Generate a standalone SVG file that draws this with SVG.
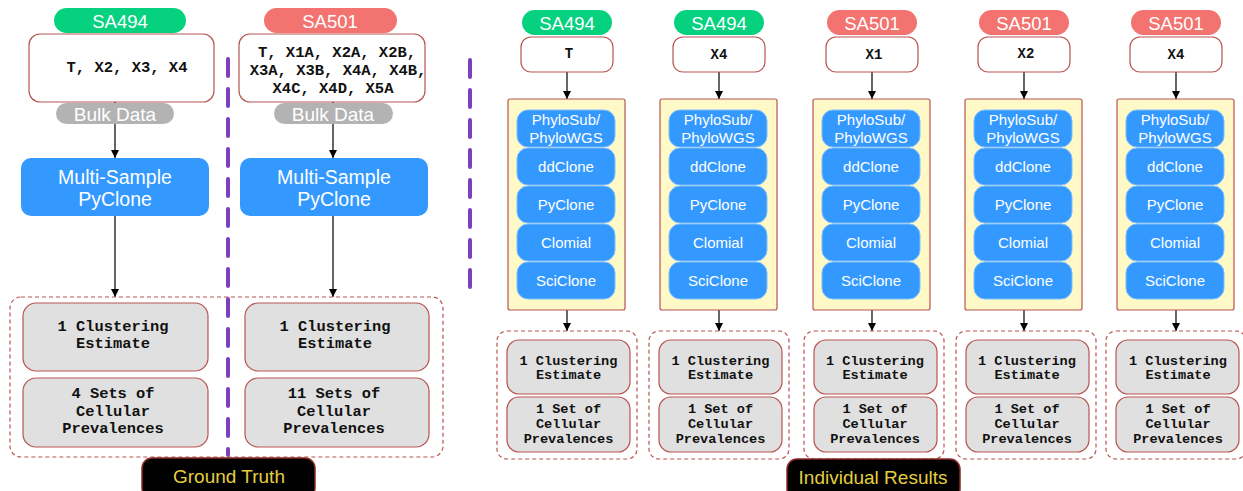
<svg xmlns="http://www.w3.org/2000/svg" width="1243" height="491" viewBox="0 0 1243 491">
  <defs>
    <marker id="arrow" viewBox="0 0 10 10" refX="10" refY="5" markerWidth="8" markerHeight="8" markerUnits="userSpaceOnUse" orient="auto">
      <path d="M0,0 L10,5 L0,10 Z" fill="#000"/>
    </marker>
  </defs>
  <style>
    .sans { font-family: "Liberation Sans", Arial, sans-serif; }
    .mono { font-family: "Liberation Mono", "Courier New", monospace; font-weight: bold; fill: #111; }
    .pill-g { fill: #05d17f; }
    .pill-r { fill: #f37370; }
    .pill-t { fill: #fff; font-size: 18.5px; text-anchor: middle; }
    .sample { fill: #fff; stroke: #b85450; stroke-width: 1.2; }
    .bulk { fill: #b3b3b3; }
    .bulk-t { fill: #fff; font-size: 19px; text-anchor: middle; }
    .msp { fill: #3399ff; }
    .msp-t { fill: #fff; font-size: 19.5px; text-anchor: middle; }
    .tray { fill: #fff9c8; stroke: #b85450; stroke-width: 1.2; }
    .tool { fill: #3399ff; stroke: #7fbfff; stroke-width: 1; }
    .tool-t { fill: #fff; font-size: 15px; text-anchor: middle; }
    .result { fill: none; stroke: #b85450; stroke-width: 1.2; stroke-dasharray: 4 3; }
    .out { fill: #e0e0e0; stroke: #b85450; stroke-width: 1.2; }
    .out-t { font-size: 15.4px; text-anchor: middle; }
    .out-s { font-size: 13.6px; text-anchor: middle; }
    .edge { stroke: #000; stroke-width: 1.2; fill: none; marker-end: url(#arrow); }
    .divider { stroke: #7e3fbf; stroke-width: 4; stroke-dasharray: 17 13; stroke-linecap: round; fill: none; }
    .banner { fill: #000; stroke: #8a2a24; stroke-width: 1.5; }
    .banner-t { fill: #e3cf3f; font-size: 19px; text-anchor: middle; }
  </style>

  <!-- dashed section dividers -->
  <g id="dividers">
    <line class="divider" x1="228" y1="59" x2="228" y2="455"/>
    <line class="divider" x1="470" y1="60" x2="470" y2="296"/>
  </g>

  <!-- connectors -->
  <g id="connectors">
    <line class="edge" x1="115" y1="102" x2="115" y2="158"/>
    <line class="edge" x1="115" y1="216" x2="115" y2="297"/>
    <line class="edge" x1="333" y1="102" x2="333" y2="158"/>
    <line class="edge" x1="333" y1="216" x2="333" y2="297"/>
    <line class="edge" x1="567" y1="72" x2="567" y2="99"/>
    <line class="edge" x1="567" y1="310" x2="567" y2="331"/>
    <line class="edge" x1="719" y1="72" x2="719" y2="99"/>
    <line class="edge" x1="719" y1="310" x2="719" y2="331"/>
    <line class="edge" x1="872" y1="72" x2="872" y2="99"/>
    <line class="edge" x1="872" y1="310" x2="872" y2="331"/>
    <line class="edge" x1="1024" y1="72" x2="1024" y2="99"/>
    <line class="edge" x1="1024" y1="310" x2="1024" y2="331"/>
    <line class="edge" x1="1176" y1="72" x2="1176" y2="99"/>
    <line class="edge" x1="1176" y1="310" x2="1176" y2="331"/>
  </g>

  <!-- ground truth: SA494 -->
  <g id="gt-sa494-label">
    <rect class="pill-g" x="54" y="8" width="132" height="25" rx="12.5"/>
    <text class="sans pill-t" x="120" y="28">SA494</text>
  </g>
  <g id="gt-sa494-samples">
    <rect class="sample" x="29" y="34" width="185" height="68" rx="11"/>
    <text class="mono" x="127" y="72" font-size="15.5" text-anchor="middle">T, X2, X3, X4</text>
  </g>
  <g id="gt-sa494-bulk">
    <rect class="bulk" x="56" y="103" width="118" height="21" rx="10.5"/>
    <text class="sans bulk-t" x="115" y="121">Bulk Data</text>
  </g>
  <g id="gt-sa494-pyclone">
    <rect class="msp" x="21" y="158" width="188" height="58" rx="10"/>
    <text class="sans msp-t" x="115" y="184">Multi-Sample</text>
    <text class="sans msp-t" x="115" y="206">PyClone</text>
  </g>

  <!-- ground truth: SA501 -->
  <g id="gt-sa501-label">
    <rect class="pill-r" x="264" y="8" width="133" height="25" rx="12.5"/>
    <text class="sans pill-t" x="330" y="28">SA501</text>
  </g>
  <g id="gt-sa501-samples">
    <rect class="sample" x="239" y="34" width="186" height="68" rx="11"/>
    <text class="mono" x="337" y="57" font-size="15.5" text-anchor="middle">T, X1A, X2A, X2B,</text>
    <text class="mono" x="338" y="75" font-size="15.5" text-anchor="middle">X3A, X3B, X4A, X4B,</text>
    <text class="mono" x="333" y="93" font-size="15.5" text-anchor="middle">X4C, X4D, X5A</text>
  </g>
  <g id="gt-sa501-bulk">
    <rect class="bulk" x="274" y="103" width="119" height="21" rx="10.5"/>
    <text class="sans bulk-t" x="333" y="121">Bulk Data</text>
  </g>
  <g id="gt-sa501-pyclone">
    <rect class="msp" x="240" y="158" width="188" height="58" rx="10"/>
    <text class="sans msp-t" x="334" y="184">Multi-Sample</text>
    <text class="sans msp-t" x="334" y="206">PyClone</text>
  </g>

  <!-- ground truth outputs -->
  <g id="gt-results">
    <rect class="result" x="10" y="297" width="433" height="160" rx="11"/>
  </g>
  <g id="gt-sa494-clustering">
    <rect class="out" x="23" y="303" width="185" height="68" rx="13"/>
    <text class="mono out-t" x="113" y="331">1 Clustering</text>
    <text class="mono out-t" x="113" y="348">Estimate</text>
  </g>
  <g id="gt-sa494-prevalences">
    <rect class="out" x="23" y="378" width="185" height="69" rx="13"/>
    <text class="mono out-t" x="113" y="398">4 Sets of</text>
    <text class="mono out-t" x="113" y="416">Cellular</text>
    <text class="mono out-t" x="113" y="433">Prevalences</text>
  </g>
  <g id="gt-sa501-clustering">
    <rect class="out" x="245" y="303" width="184" height="68" rx="13"/>
    <text class="mono out-t" x="335" y="331">1 Clustering</text>
    <text class="mono out-t" x="335" y="348">Estimate</text>
  </g>
  <g id="gt-sa501-prevalences">
    <rect class="out" x="245" y="378" width="184" height="69" rx="13"/>
    <text class="mono out-t" x="334" y="398">11 Sets of</text>
    <text class="mono out-t" x="334" y="416">Cellular</text>
    <text class="mono out-t" x="334" y="433">Prevalences</text>
  </g>
  <g id="gt-banner">
    <rect class="banner" x="142" y="458" width="173" height="40" rx="10"/>
    <text class="sans banner-t" x="229" y="483">Ground Truth</text>
  </g>

  <!-- individual results: one column per sample -->
  <g id="ir-sa494-t" transform="translate(567,0)">
    <rect class="pill-g" x="-45" y="10" width="90" height="25" rx="12.5"/>
    <text class="sans pill-t" x="0" y="30">SA494</text>
    <rect class="sample" x="-46" y="37" width="92" height="35" rx="10"/>
    <text class="mono" x="2" y="58" font-size="14" text-anchor="middle">T</text>
    <rect class="tray" x="-59" y="99" width="117" height="211" rx="2"/>
    <rect class="tool" x="-50" y="110" width="98" height="37" rx="11"/>
    <text class="sans tool-t" x="-1" y="125">PhyloSub/</text>
    <text class="sans tool-t" x="-1" y="143">PhyloWGS</text>
    <rect class="tool" x="-50" y="148" width="98" height="37" rx="11"/>
    <text class="sans tool-t" x="-1" y="172">ddClone</text>
    <rect class="tool" x="-50" y="186" width="98" height="37" rx="11"/>
    <text class="sans tool-t" x="-1" y="210">PyClone</text>
    <rect class="tool" x="-50" y="224" width="98" height="37" rx="11"/>
    <text class="sans tool-t" x="-1" y="248">Clomial</text>
    <rect class="tool" x="-50" y="262" width="98" height="37" rx="11"/>
    <text class="sans tool-t" x="-1" y="286">SciClone</text>
    <rect class="result" x="-70" y="331" width="140" height="128" rx="10"/>
    <rect class="out" x="-60" y="340" width="123" height="54" rx="12"/>
    <text class="mono out-s" x="1.5" y="365">1 Clustering</text>
    <text class="mono out-s" x="1.5" y="379">Estimate</text>
    <rect class="out" x="-60" y="397" width="123" height="55" rx="12"/>
    <text class="mono out-s" x="1.5" y="413">1 Set of</text>
    <text class="mono out-s" x="1.5" y="428">Cellular</text>
    <text class="mono out-s" x="1.5" y="443">Prevalences</text>
  </g>

  <g id="ir-sa494-x4" transform="translate(719,0)">
    <rect class="pill-g" x="-45" y="10" width="90" height="25" rx="12.5"/>
    <text class="sans pill-t" x="0" y="30">SA494</text>
    <rect class="sample" x="-46" y="37" width="92" height="35" rx="10"/>
    <text class="mono" x="0" y="59" font-size="14" text-anchor="middle">X4</text>
    <rect class="tray" x="-59" y="99" width="117" height="211" rx="2"/>
    <rect class="tool" x="-50" y="110" width="98" height="37" rx="11"/>
    <text class="sans tool-t" x="-1" y="125">PhyloSub/</text>
    <text class="sans tool-t" x="-1" y="143">PhyloWGS</text>
    <rect class="tool" x="-50" y="148" width="98" height="37" rx="11"/>
    <text class="sans tool-t" x="-1" y="172">ddClone</text>
    <rect class="tool" x="-50" y="186" width="98" height="37" rx="11"/>
    <text class="sans tool-t" x="-1" y="210">PyClone</text>
    <rect class="tool" x="-50" y="224" width="98" height="37" rx="11"/>
    <text class="sans tool-t" x="-1" y="248">Clomial</text>
    <rect class="tool" x="-50" y="262" width="98" height="37" rx="11"/>
    <text class="sans tool-t" x="-1" y="286">SciClone</text>
    <rect class="result" x="-70" y="331" width="140" height="128" rx="10"/>
    <rect class="out" x="-60" y="340" width="123" height="54" rx="12"/>
    <text class="mono out-s" x="1.5" y="365">1 Clustering</text>
    <text class="mono out-s" x="1.5" y="379">Estimate</text>
    <rect class="out" x="-60" y="397" width="123" height="55" rx="12"/>
    <text class="mono out-s" x="1.5" y="413">1 Set of</text>
    <text class="mono out-s" x="1.5" y="428">Cellular</text>
    <text class="mono out-s" x="1.5" y="443">Prevalences</text>
  </g>

  <g id="ir-sa501-x1" transform="translate(872,0)">
    <rect class="pill-r" x="-45" y="10" width="90" height="25" rx="12.5"/>
    <text class="sans pill-t" x="0" y="30">SA501</text>
    <rect class="sample" x="-46" y="37" width="92" height="35" rx="10"/>
    <text class="mono" x="2" y="59" font-size="14" text-anchor="middle">X1</text>
    <rect class="tray" x="-59" y="99" width="117" height="211" rx="2"/>
    <rect class="tool" x="-50" y="110" width="98" height="37" rx="11"/>
    <text class="sans tool-t" x="-1" y="125">PhyloSub/</text>
    <text class="sans tool-t" x="-1" y="143">PhyloWGS</text>
    <rect class="tool" x="-50" y="148" width="98" height="37" rx="11"/>
    <text class="sans tool-t" x="-1" y="172">ddClone</text>
    <rect class="tool" x="-50" y="186" width="98" height="37" rx="11"/>
    <text class="sans tool-t" x="-1" y="210">PyClone</text>
    <rect class="tool" x="-50" y="224" width="98" height="37" rx="11"/>
    <text class="sans tool-t" x="-1" y="248">Clomial</text>
    <rect class="tool" x="-50" y="262" width="98" height="37" rx="11"/>
    <text class="sans tool-t" x="-1" y="286">SciClone</text>
    <rect class="result" x="-68" y="331" width="140" height="128" rx="10"/>
    <rect class="out" x="-58" y="340" width="123" height="54" rx="12"/>
    <text class="mono out-s" x="3" y="365">1 Clustering</text>
    <text class="mono out-s" x="3" y="379">Estimate</text>
    <rect class="out" x="-58" y="397" width="123" height="55" rx="12"/>
    <text class="mono out-s" x="3" y="413">1 Set of</text>
    <text class="mono out-s" x="3" y="428">Cellular</text>
    <text class="mono out-s" x="3" y="443">Prevalences</text>
  </g>

  <g id="ir-sa501-x2" transform="translate(1024,0)">
    <rect class="pill-r" x="-45" y="10" width="90" height="25" rx="12.5"/>
    <text class="sans pill-t" x="0" y="30">SA501</text>
    <rect class="sample" x="-46" y="37" width="92" height="35" rx="10"/>
    <text class="mono" x="2" y="58" font-size="14" text-anchor="middle">X2</text>
    <rect class="tray" x="-59" y="99" width="117" height="211" rx="2"/>
    <rect class="tool" x="-50" y="110" width="98" height="37" rx="11"/>
    <text class="sans tool-t" x="-1" y="125">PhyloSub/</text>
    <text class="sans tool-t" x="-1" y="143">PhyloWGS</text>
    <rect class="tool" x="-50" y="148" width="98" height="37" rx="11"/>
    <text class="sans tool-t" x="-1" y="172">ddClone</text>
    <rect class="tool" x="-50" y="186" width="98" height="37" rx="11"/>
    <text class="sans tool-t" x="-1" y="210">PyClone</text>
    <rect class="tool" x="-50" y="224" width="98" height="37" rx="11"/>
    <text class="sans tool-t" x="-1" y="248">Clomial</text>
    <rect class="tool" x="-50" y="262" width="98" height="37" rx="11"/>
    <text class="sans tool-t" x="-1" y="286">SciClone</text>
    <rect class="result" x="-68" y="331" width="140" height="128" rx="10"/>
    <rect class="out" x="-58" y="340" width="123" height="54" rx="12"/>
    <text class="mono out-s" x="3" y="365">1 Clustering</text>
    <text class="mono out-s" x="3" y="379">Estimate</text>
    <rect class="out" x="-58" y="397" width="123" height="55" rx="12"/>
    <text class="mono out-s" x="3" y="413">1 Set of</text>
    <text class="mono out-s" x="3" y="428">Cellular</text>
    <text class="mono out-s" x="3" y="443">Prevalences</text>
  </g>

  <g id="ir-sa501-x4" transform="translate(1176,0)">
    <rect class="pill-r" x="-45" y="10" width="90" height="25" rx="12.5"/>
    <text class="sans pill-t" x="0" y="30">SA501</text>
    <rect class="sample" x="-46" y="37" width="92" height="35" rx="10"/>
    <text class="mono" x="0" y="59" font-size="14" text-anchor="middle">X4</text>
    <rect class="tray" x="-59" y="99" width="117" height="211" rx="2"/>
    <rect class="tool" x="-50" y="110" width="98" height="37" rx="11"/>
    <text class="sans tool-t" x="-1" y="125">PhyloSub/</text>
    <text class="sans tool-t" x="-1" y="143">PhyloWGS</text>
    <rect class="tool" x="-50" y="148" width="98" height="37" rx="11"/>
    <text class="sans tool-t" x="-1" y="172">ddClone</text>
    <rect class="tool" x="-50" y="186" width="98" height="37" rx="11"/>
    <text class="sans tool-t" x="-1" y="210">PyClone</text>
    <rect class="tool" x="-50" y="224" width="98" height="37" rx="11"/>
    <text class="sans tool-t" x="-1" y="248">Clomial</text>
    <rect class="tool" x="-50" y="262" width="98" height="37" rx="11"/>
    <text class="sans tool-t" x="-1" y="286">SciClone</text>
    <rect class="result" x="-70" y="331" width="140" height="128" rx="10"/>
    <rect class="out" x="-60" y="340" width="123" height="54" rx="12"/>
    <text class="mono out-s" x="2" y="365">1 Clustering</text>
    <text class="mono out-s" x="2" y="379">Estimate</text>
    <rect class="out" x="-60" y="397" width="123" height="55" rx="12"/>
    <text class="mono out-s" x="2" y="413">1 Set of</text>
    <text class="mono out-s" x="2" y="428">Cellular</text>
    <text class="mono out-s" x="2" y="443">Prevalences</text>
  </g>

  <g id="ir-banner">
    <rect class="banner" x="787" y="459" width="173" height="40" rx="10"/>
    <text class="sans banner-t" x="873" y="484">Individual Results</text>
  </g>
</svg>
